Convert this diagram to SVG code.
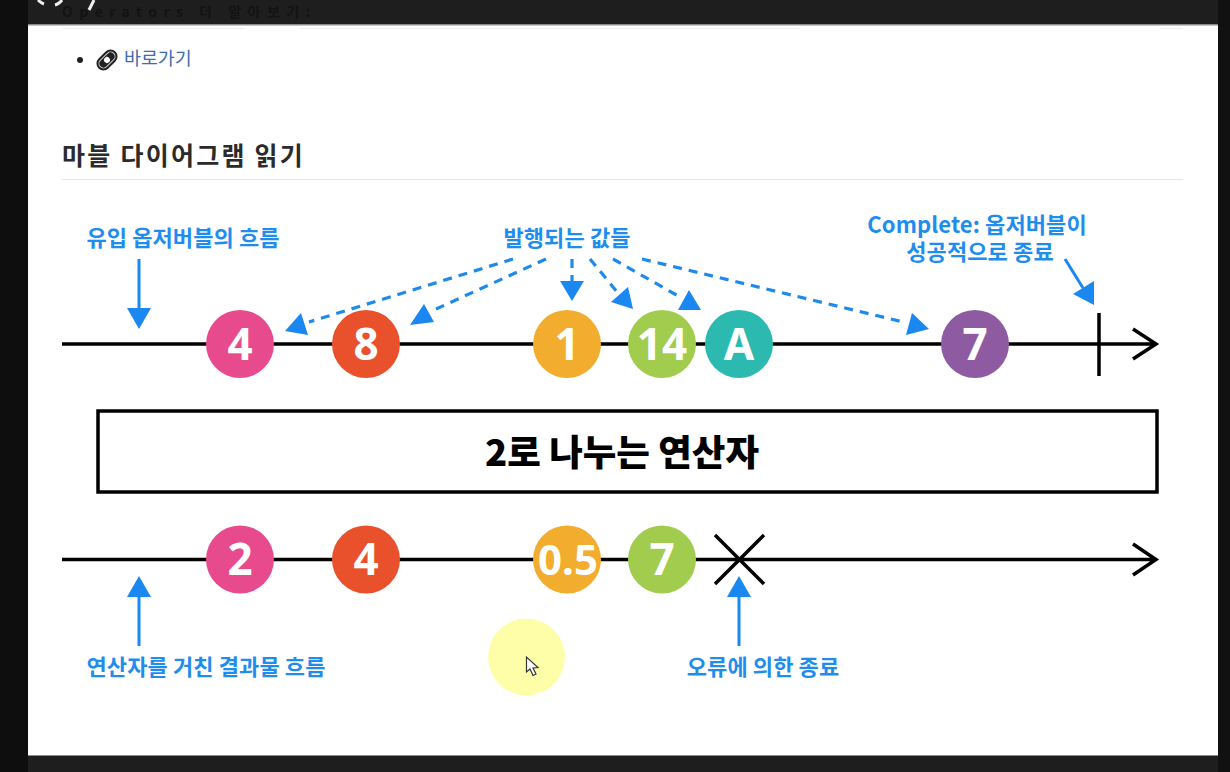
<svg xmlns="http://www.w3.org/2000/svg" width="1230" height="772" viewBox="0 0 1230 772">
<style>
.b{fill:#1f8dee;font-family:"Noto Sans CJK KR","Noto Sans",sans-serif;font-size:22px;font-weight:700;text-anchor:middle;letter-spacing:.1px}
.v{fill:#fff;font-family:"Noto Sans","Noto Sans CJK KR",sans-serif;font-size:44px;font-weight:700;text-anchor:middle}
.line{stroke:#000;stroke-width:3.500;fill:none}
.blue{stroke:#1a88f0;stroke-width:3;fill:none}
.dash{stroke:#1f8aea;stroke-width:3.200;fill:none;stroke-dasharray:9 7}
.tip{fill:#1a88f0}
</style>
<rect width="1230" height="772" fill="#1e1e1e"/>
<rect x="0" y="0" width="28" height="772" fill="#0e0e0e"/>
<rect x="1218" y="0" width="12" height="772" fill="#111"/>
<path d="M38 0Q41 3 44 4M62 0Q59 4 55 5M94 0L89 10" stroke="#eee" stroke-width="3" fill="none"/>
<text x="62" y="17" font-family="Noto Sans CJK KR,sans-serif" font-size="14" font-weight="700" letter-spacing="6.500" fill="#131313">Operators 더 알아보기:</text>
<rect x="28" y="24" width="1190" height="732" fill="#8a8a8a"/>
<rect x="28" y="25.500" width="1190" height="729.500" fill="#fff"/>
<path d="M62 28.500H245M300 28.500H800M1160 28.500H1183" stroke="#f0f0f0" stroke-width="1.500"/>
<circle cx="80" cy="60" r="3" fill="#222"/>
<g id="link-icon" transform="rotate(-45 107 60)"><rect x="95" y="53" width="24" height="14" rx="7" fill="#222"/><rect x="97.500" y="55.500" width="19" height="9" rx="4.500" fill="none" stroke="#ccc" stroke-width="1"/><circle cx="107" cy="60" r="3" fill="#fff"/></g>
<text x="124" y="65" font-family="Noto Sans CJK KR,sans-serif" font-size="18.400" fill="#3d6cb0">바로가기</text>
<text x="62" y="165" font-family="Noto Sans CJK KR,sans-serif" font-size="25" font-weight="700" letter-spacing="2.250" fill="#2b2b2b">마블 다이어그램 읽기</text>
<path d="M62 179.500H1183" stroke="#e6e6e6" stroke-width="1"/>

<g id="connectors">
<path class="line" d="M62 344H1156M1133 329L1156 344L1133 359"/>
<path class="line" d="M1099 313V376"/>
<path class="line" d="M62 559.500H1156M1133 544L1156 559.500L1133 575"/>
<path class="line" d="M715 535L764 584M764 535L715 584"/>
<path class="blue" d="M139 259V310"/><path class="tip" d="M127 308H151L139 329Z"/>
<path class="blue" d="M139 646V596"/><path class="tip" d="M127 597H151L139 576Z"/>
<path class="blue" d="M739 646V596"/><path class="tip" d="M727 597H751L739 576Z"/>
<path class="blue" d="M1065 259L1083 288"/><path class="tip" d="M1073 294L1094 281L1094 305Z"/>
<path class="dash" d="M513 259L309 322"/><path class="tip" d="M285 331L301 313L308 335Z"/>
<path class="dash" d="M546 259L436 309"/><path class="tip" d="M410 325L424 304L434 322Z"/>
<path class="dash" d="M572 259V281"/><path class="tip" d="M560 281H584L572 301Z"/>
<path class="dash" d="M590 259L618 293"/><path class="tip" d="M633 309L611 302L628 287Z"/>
<path class="dash" d="M613 259L680 297"/><path class="tip" d="M701 310L678 310L689 290Z"/>
<path class="dash" d="M642 259L903 322"/><path class="tip" d="M929 329L906 335L912 313Z"/>
</g>

<g id="n-4"><circle cx="240" cy="344" r="34" fill="#e84a8e"/><text class="v" x="240" y="360">4</text></g>
<g id="n-8"><circle cx="366" cy="344" r="34" fill="#e8512c"/><text class="v" x="366" y="360">8</text></g>
<g id="n-1"><circle cx="567" cy="344" r="34" fill="#f2ac2e"/><text class="v" x="567" y="360">1</text></g>
<g id="n-14"><circle cx="662" cy="344" r="34" fill="#a2cc4e"/><text class="v" x="662" y="360">14</text></g>
<g id="n-A"><circle cx="739" cy="344" r="34" fill="#2cbab0"/><text class="v" x="739" y="360">A</text></g>
<g id="n-7"><circle cx="975" cy="344" r="34" fill="#8e5ba3"/><text class="v" x="975" y="360">7</text></g>

<g id="operator"><rect x="98" y="411" width="1059" height="81" fill="#fff" stroke="#000" stroke-width="3.500"/><text x="622" y="466" font-family="Noto Sans CJK KR,sans-serif" font-size="36.500" font-weight="900" text-anchor="middle" fill="#000">2로 나누는 연산자</text></g>

<g id="o-2"><circle cx="240" cy="559.500" r="34" fill="#e84a8e"/><text class="v" x="240" y="575">2</text></g>
<g id="o-4"><circle cx="366" cy="559.500" r="34" fill="#e8512c"/><text class="v" x="366" y="575">4</text></g>
<g id="o-05"><circle cx="567" cy="559.500" r="34" fill="#f2ac2e"/><text class="v" x="568" y="575" style="font-size:42px">0.5</text></g>
<g id="o-7"><circle cx="662" cy="559.500" r="34" fill="#a2cc4e"/><text class="v" x="662" y="575">7</text></g>

<text class="b" x="183" y="246">유입 옵저버블의 흐름</text>
<text class="b" x="567" y="246">발행되는 값들</text>
<text class="b" x="977" y="233">Complete: 옵저버블이</text>
<text class="b" x="980" y="260">성공적으로 종료</text>
<text class="b" x="206" y="675">연산자를 거친 결과물 흐름</text>
<text class="b" x="763" y="675">오류에 의한 종료</text>

<g id="cursor"><circle cx="526.500" cy="657" r="38.500" fill="#fefea8"/><path d="M526.500 657V672L530 669L533 675.500L536 674L533 668L538 667.500Z" fill="#fff" stroke="#333" stroke-width="1.200"/></g>
</svg>
